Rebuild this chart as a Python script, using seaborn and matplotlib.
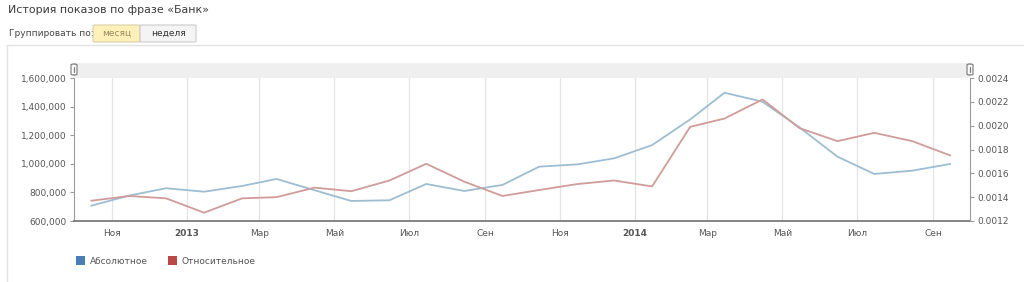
import matplotlib
matplotlib.use("Agg")
import matplotlib.pyplot as plt
import matplotlib.dates as mdates
from matplotlib.patches import Rectangle, FancyBboxPatch, Patch
from matplotlib.lines import Line2D
import matplotlib.ticker as mticker
import seaborn as sns
import pandas as pd
import numpy as np

sns.set_style("white")
plt.rcParams['font.family'] = ['DejaVu Sans']

# ---- data ----
months = pd.date_range("2012-10-01", periods=24, freq="MS") + pd.Timedelta(days=14)
absolute = [707000, 778000, 829000, 805000, 845000, 894000, 815000, 740000,
            745000, 859000, 810000, 852000, 980000, 996000, 1038000, 1131000,
            1310000, 1497000, 1434000, 1255000, 1050000, 929000, 952000, 999000]
relative = [0.00137, 0.00141, 0.00139, 0.00127, 0.00139, 0.00140, 0.00148, 0.00145,
            0.00154, 0.00168, 0.00153, 0.00141, 0.00146, 0.00151, 0.00154, 0.00149,
            0.00199, 0.00206, 0.00222, 0.00198, 0.00187, 0.00194, 0.00187, 0.00175]
tick_dates = pd.date_range("2012-11-01", periods=12, freq="2MS")
tick_labels = ["Ноя", "2013", "Мар", "Май", "Июл", "Сен",
               "Ноя", "2014", "Мар", "Май", "Июл", "Сен"]
left_ticks = [600000, 800000, 1000000, 1200000, 1400000, 1600000]
right_ticks = [0.0012, 0.0014, 0.0016, 0.0018, 0.0020, 0.0022, 0.0024]
series_names = ["Абсолютное", "Относительное"]

df = pd.DataFrame({"month": months, "abs": absolute, "rel": relative})

W, H = 1024, 282
fig = plt.figure(figsize=(W / 100, H / 100), dpi=100)

def fx(px):
    return px / W

def fy(py):
    return 1 - py / H

L, R, T, B = 74, 970, 78, 221
ax = fig.add_axes([fx(L), fy(B), fx(R - L), fy(T) - fy(B)])
ax2 = ax.twinx()

blue_line = "#9dbdd2"
red_line = "#cf9c9a"
sns.lineplot(data=df, x="month", y="abs", ax=ax, color=blue_line, linewidth=1.3)
sns.lineplot(data=df, x="month", y="rel", ax=ax2, color=red_line, linewidth=1.3)

ax.set_xlim(pd.Timestamp("2012-10-01"), pd.Timestamp("2014-10-01"))
ax.set_ylim(600000, 1600000)
ax2.set_ylim(0.0012, 0.0024)
ax.set_xticks(tick_dates)
ax.set_xticklabels(tick_labels)
for lbl in ax.get_xticklabels():
    if lbl.get_text() in ("2013", "2014"):
        lbl.set_fontweight("bold")
        lbl.set_color("#333333")
ax.set_yticks(left_ticks)
ax.yaxis.set_major_formatter(mticker.FuncFormatter(lambda v, p: f"{int(v):,}"))
ax2.set_yticks(right_ticks)
ax2.yaxis.set_major_formatter(mticker.FuncFormatter(lambda v, p: f"{v:.4f}"))

ax.set_xlabel("")
ax.set_ylabel("")
ax2.set_ylabel("")
ax.grid(axis="x", color="#e4e4e4", linewidth=0.9)
ax.grid(axis="y", visible=False)
ax2.grid(False)

for a in (ax, ax2):
    for s in a.spines.values():
        s.set_visible(False)
ax.spines["left"].set_visible(True)
ax.spines["left"].set_color("#9a9a9a")
ax.spines["bottom"].set_visible(True)
ax.spines["bottom"].set_color("#707070")
ax.spines["bottom"].set_linewidth(1.2)
ax2.spines["right"].set_visible(True)
ax2.spines["right"].set_color("#9a9a9a")

ax.tick_params(axis="x", direction="inout", length=5, width=1, color="#555555",
               labelsize=6.5, labelcolor="#555555", pad=3)
ax.tick_params(axis="y", direction="out", length=3, width=0.8, color="#9a9a9a",
               labelsize=6.5, labelcolor="#555555", pad=2, left=True)
ax2.tick_params(axis="y", direction="out", length=3, width=0.8, color="#9a9a9a",
                labelsize=6.5, labelcolor="#555555", pad=2, right=True)

# panel border
fig.add_artist(Line2D([fx(7), fx(1024)], [fy(45), fy(45)], color="#e2e2e2", lw=1))
fig.add_artist(Line2D([fx(7), fx(7)], [fy(45), fy(282)], color="#e2e2e2", lw=1))

# grey navigator band
fig.add_artist(Rectangle((fx(L), fy(T)), fx(R - L), fy(63) - fy(T),
                         facecolor="#efefef", edgecolor="none"))
for hx in (L, R):
    fig.add_artist(FancyBboxPatch((fx(hx - 3), fy(75)), fx(6), fy(64) - fy(75),
                                  boxstyle="round,pad=0,rounding_size=0.003",
                                  facecolor="#f8f8f8", edgecolor="#777777", lw=0.8))
    fig.add_artist(Line2D([fx(hx), fx(hx)], [fy(67), fy(72)], color="#777777", lw=0.8))

# title and grouping controls
fig.text(fx(8), fy(10), "История показов по фразе «Банк»", fontsize=7.9,
         color="#3a3a3a", va="center", ha="left")
fig.text(fx(9), fy(33), "Группировать по:", fontsize=6.5, color="#444444",
         va="center", ha="left")
fig.add_artist(FancyBboxPatch((fx(93), fy(42)), fx(47), fy(25) - fy(42),
                              boxstyle="round,pad=0,rounding_size=0.002",
                              facecolor="#fdf0b8", edgecolor="#d8d0a8", lw=0.8))
fig.add_artist(FancyBboxPatch((fx(140), fy(42)), fx(56), fy(25) - fy(42),
                              boxstyle="round,pad=0,rounding_size=0.002",
                              facecolor="#f4f4f4", edgecolor="#cccccc", lw=0.8))
fig.text(fx(116.5), fy(33.5), "месяц", fontsize=6.5, color="#9a8a60",
         va="center", ha="center")
fig.text(fx(168), fy(33.5), "неделя", fontsize=6.5, color="#333333",
         va="center", ha="center")

# legend
handles = [Patch(facecolor="#4a7db3", edgecolor="none"),
           Patch(facecolor="#b94846", edgecolor="none")]
fig.legend(handles, series_names, loc="center left",
           bbox_to_anchor=(fx(68), fy(261)), ncol=2, frameon=False,
           fontsize=6.5, handlelength=1.0, handleheight=1.0, handletextpad=0.5,
           columnspacing=2.2, labelcolor="#555555")

fig.savefig("out.png", dpi=100)
